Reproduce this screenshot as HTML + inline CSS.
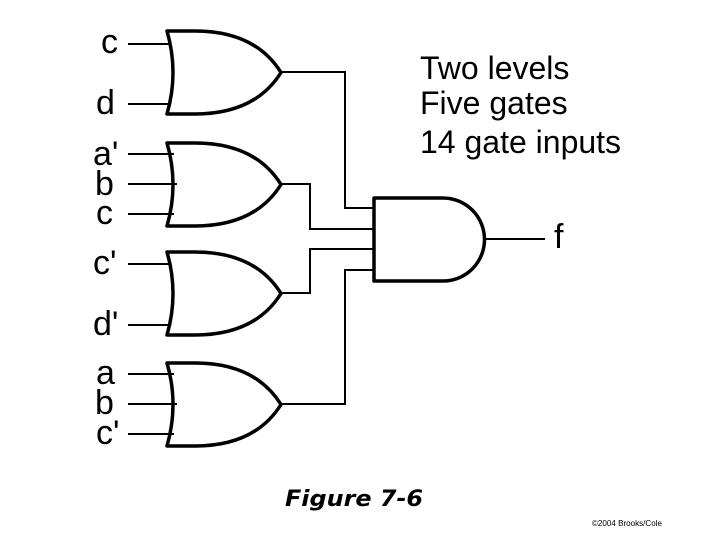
<!DOCTYPE html>
<html><head><style>body{margin:0;background:#fff}svg{display:block}</style></head><body>
<svg width="720" height="540" viewBox="0 0 720 540" xmlns="http://www.w3.org/2000/svg">
<rect width="720" height="540" fill="#fff"/>
<defs>
<path id="org" d="M0 0 Q12 41.5 0 83 L28 83 Q88 83 114 41.5 Q88 0 28 0 Z"/>
</defs>
<g fill="none" stroke="#000" stroke-width="3.5" stroke-linejoin="round">
<use href="#org" x="167" y="31"/>
<use href="#org" x="167" y="143"/>
<use href="#org" x="167" y="252"/>
<use href="#org" x="167" y="363"/>
<path d="M374 198 L443 198 A41.5 41.5 0 0 1 443 281 L374 281 Z"/>
</g>
<g fill="none" stroke="#000" stroke-width="2">
<path d="M128 44H171M128 104H171"/>
<path d="M128 154H174M128 184H177M128 214H174"/>
<path d="M128 264H171M128 325H171"/>
<path d="M128 374H174M128 404H177M128 434H174"/>
<path d="M281 72H345V208H374"/>
<path d="M281 184H310V229H374"/>
<path d="M281 293H310V249H374"/>
<path d="M281 404H345V270H374"/>
<path d="M485 239H545"/>
</g>
<g font-family="Liberation Sans, Arial, sans-serif" font-size="34" fill="#000">
<text x="101" y="53">c</text>
<text x="96" y="114">d</text>
<text x="93" y="165">a'</text>
<text x="95" y="195">b</text>
<text x="96" y="224">c</text>
<text x="93" y="274">c'</text>
<text x="93" y="335">d'</text>
<text x="96" y="384">a</text>
<text x="95" y="414">b</text>
<text x="96" y="444">c'</text>
<text x="554" y="248">f</text>
</g>
<g font-family="Liberation Sans, Arial, sans-serif" font-size="32" fill="#000">
<text x="420" y="79">Two levels</text>
<text x="420" y="114">Five gates</text>
<text x="420" y="153">14 gate inputs</text>
</g>
<text x="285" y="506" font-family="DejaVu Sans, sans-serif" font-weight="bold" font-style="italic" font-size="22" textLength="138" lengthAdjust="spacingAndGlyphs">Figure 7-6</text>
<text x="592" y="526" font-family="Liberation Sans, sans-serif" font-size="8" textLength="70" lengthAdjust="spacingAndGlyphs">©2004 Brooks/Cole</text>
</svg>
</body></html>
